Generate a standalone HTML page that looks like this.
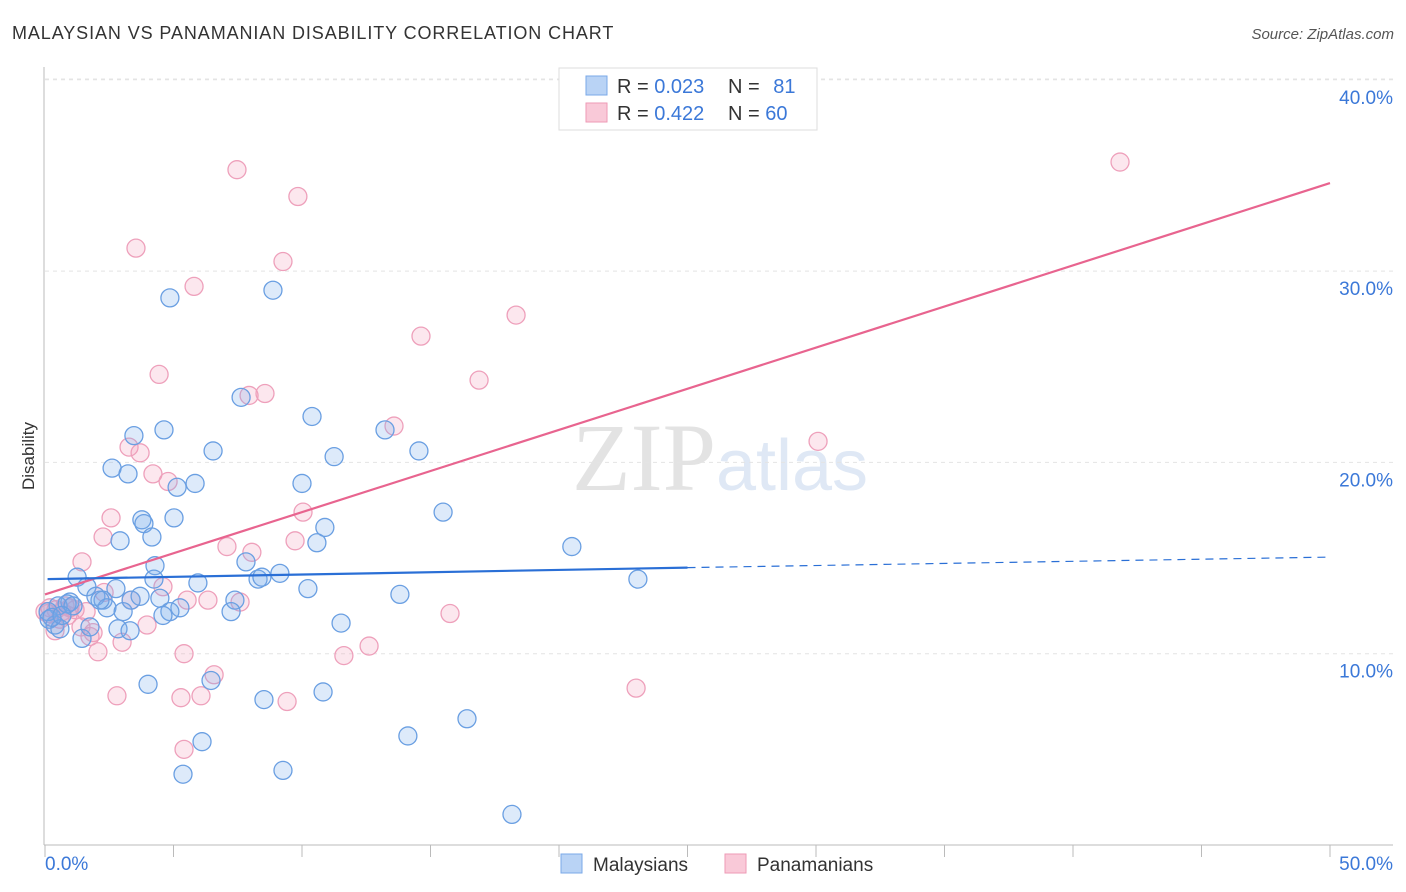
<!DOCTYPE html>
<html><head><meta charset="utf-8"><style>
body{margin:0;background:#fff;font-family:"Liberation Sans",sans-serif;}
#wrap{position:relative;width:1406px;height:892px;overflow:hidden;}
</style></head><body>
<div id="wrap">
<svg id="chart" width="1406" height="892" font-family="Liberation Sans, sans-serif">
<text x="12" y="39" font-size="18" letter-spacing="0.9" fill="#333">MALAYSIAN VS PANAMANIAN DISABILITY CORRELATION CHART</text>
<text x="1394" y="39" font-size="15" fill="#555" text-anchor="end" font-style="italic">Source: ZipAtlas.com</text>
<text x="720" y="490" font-size="96" text-anchor="middle" fill="#e6e6e6" font-family="Liberation Serif, serif"><tspan fill="#e3e3e3">ZIP</tspan><tspan fill="#dfe8f5" font-family="Liberation Sans, sans-serif" font-size="72">atlas</tspan></text>
<g id="grid"></g>
<g id="axes"></g>
<text transform="translate(34,456) rotate(-90)" font-size="17" fill="#333" text-anchor="middle">Disability</text>
<g id="series"></g>
<g id="trends"></g>
<g>
<rect x="559" y="68" width="258" height="62" fill="#fff" stroke="#ddd"/>
<rect x="586" y="76" width="21" height="19" fill="#b9d3f5" stroke="#7aa8e8"/>
<rect x="586" y="103" width="21" height="19" fill="#f9c9d8" stroke="#ee9ab6"/>
<text x="617" y="93" font-size="20" fill="#333">R = <tspan fill="#3b78d8">0.023</tspan></text>
<text x="728" y="93" font-size="20" fill="#333">N = <tspan fill="#3b78d8" dx="8">81</tspan></text>
<text x="617" y="120" font-size="20" fill="#333">R = <tspan fill="#3b78d8">0.422</tspan></text>
<text x="728" y="120" font-size="20" fill="#333">N = <tspan fill="#3b78d8">60</tspan></text>
</g>
<g>
<rect x="561" y="854" width="21" height="19" fill="#b9d3f5" stroke="#7aa8e8"/>
<text x="593" y="871" font-size="19" fill="#333">Malaysians</text>
<rect x="725" y="854" width="21" height="19" fill="#f9c9d8" stroke="#ee9ab6"/>
<text x="757" y="871" font-size="19" fill="#333">Panamanians</text>
</g>
</svg>
</div>
<script>
const yTicks=[10,20,30,40];
const yTickLabels=["10.0%","20.0%","30.0%","40.0%"];
const xTicks=[0,5,10,15,20,25,30,35,40,45,50];
const xEndLabels=["0.0%","50.0%"];
const blueX=[4.86,8.87,7.63,10.39,4.63,3.46,13.23,14.55,6.54,11.25,2.61,3.23,5.84,5.14,10.0,15.49,3.77,3.85,5.02,10.89,4.16,2.92,10.58,20.5,4.28,7.82,1.25,1.63,4.24,5.95,9.14,8.29,8.44,10.23,23.07,2.76,1.98,2.26,0.97,3.35,5.25,3.7,4.47,7.39,13.81,2.41,3.04,4.86,4.59,7.24,0.51,0.86,0.16,0.39,0.58,1.44,1.75,2.84,3.31,11.52,4.01,6.46,8.52,10.82,16.42,6.11,14.12,5.37,9.26,18.17,0.12,0.27,1.09,2.14,0.66];
const blueY=[28.6,29.0,23.4,22.4,21.7,21.4,21.7,20.6,20.6,20.3,19.7,19.4,18.9,18.7,18.9,17.4,17.0,16.8,17.1,16.6,16.1,15.9,15.8,15.6,14.6,14.8,14.0,13.5,13.9,13.7,14.2,13.9,14.0,13.4,13.9,13.4,13.0,12.8,12.7,12.8,12.4,13.0,12.9,12.8,13.1,12.4,12.2,12.2,12.0,12.2,12.5,12.6,11.8,11.5,11.3,10.8,11.4,11.3,11.2,11.6,8.4,8.6,7.6,8.0,6.6,5.4,5.7,3.7,3.9,1.6,12.2,11.9,12.5,12.8,12.0];
const pinkX=[41.83,7.47,9.84,3.54,9.26,5.8,18.33,14.63,4.44,16.89,8.56,7.94,13.58,30.08,3.27,3.7,4.2,4.79,2.57,10.04,2.26,9.73,7.08,8.05,1.44,4.59,2.3,3.35,5.53,6.34,7.59,0.19,0.43,0.66,0.97,1.17,1.6,3.97,15.76,12.61,1.4,1.75,1.87,11.63,2.06,5.41,3.0,6.58,23.0,2.8,5.29,6.07,9.42,5.41,0.12,0.78,0.39,0.58,0.89,0];
const pinkY=[35.7,35.3,33.9,31.2,30.5,29.2,27.7,26.6,24.6,24.3,23.6,23.5,21.9,21.1,20.8,20.5,19.4,19.0,17.1,17.4,16.1,15.9,15.6,15.3,14.8,13.5,13.2,12.8,12.8,12.8,12.7,12.4,12.3,12.2,12.4,12.3,12.2,11.5,12.1,10.4,11.4,10.9,11.1,9.9,10.1,10.0,10.6,8.9,8.2,7.8,7.7,7.8,7.5,5.0,12.1,12.5,11.2,11.8,12.0,12.2];
const blueTrend=[0.1,13.9,25,14.5,50,15.05];
const pinkTrend=[0,13.1,50,34.6];

const NS="http://www.w3.org/2000/svg";
const X=v=>45+v*25.7, Y=v=>845-v*19.13;
function mk(tag,attrs,parent){const e=document.createElementNS(NS,tag);for(const k in attrs)e.setAttribute(k,attrs[k]);parent.appendChild(e);return e;}
const grid=document.getElementById('grid'),axes=document.getElementById('axes'),series=document.getElementById('series'),trends=document.getElementById('trends');
yTicks.forEach((t,i)=>{
 const l=mk('line',{x1:45,x2:1393,y1:Y(t),y2:Y(t),stroke:'#e4e4e4','stroke-dasharray':'4 4'},grid);
 
 
 const tx=mk('text',{x:1393,y:Y(t)+24,'font-size':19,fill:'#3b78d8','text-anchor':'end'},axes);
 tx.textContent=yTickLabels[i];
 
 
});
const tg=mk('line',{x1:45,x2:1393,y1:79,y2:79,stroke:'#e4e4e4','stroke-dasharray':'4 4'},grid);


const ya=mk('line',{x1:44,x2:44,y1:67,y2:845,stroke:'#bbb'},axes);


const xa=mk('line',{x1:44,x2:1393,y1:845,y2:845,stroke:'#bbb'},axes);


xTicks.forEach(t=>{
 const l=mk('line',{x1:X(t),x2:X(t),y1:845,y2:857,stroke:'#bbb'},axes);
 
 
});
const xl0=mk('text',{x:45,y:870,'font-size':19,fill:'#3b78d8'},axes);
xl0.textContent=xEndLabels[0];


const xl1=mk('text',{x:1393,y:870,'font-size':19,fill:'#3b78d8','text-anchor':'end'},axes);
xl1.textContent=xEndLabels[1];


pinkX.forEach((v,i)=>{
 const c=mk('circle',{cx:X(v),cy:Y(pinkY[i]),r:9,fill:'rgba(244,160,188,0.25)',stroke:'#eea0bb','stroke-width':1.3},series);
 
 
});
blueX.forEach((v,i)=>{
 const c=mk('circle',{cx:X(v),cy:Y(blueY[i]),r:9,fill:'rgba(120,170,235,0.25)',stroke:'#6a9fe2','stroke-width':1.3},series);
 
 
});
const pl=mk('line',{x1:X(pinkTrend[0]),y1:Y(pinkTrend[1]),x2:X(pinkTrend[2]),y2:Y(pinkTrend[3]),stroke:'#e8648f','stroke-width':2.2},trends);


const bl=mk('line',{x1:X(blueTrend[0]),y1:Y(blueTrend[1]),x2:X(blueTrend[2]),y2:Y(blueTrend[3]),stroke:'#2a6fd6','stroke-width':2.2},trends);


const bd=mk('line',{x1:X(blueTrend[2]),y1:Y(blueTrend[3]),x2:X(blueTrend[4]),y2:Y(blueTrend[5]),stroke:'#2a6fd6','stroke-width':1.2,'stroke-dasharray':'8 6'},trends);


</script>
</body></html>
